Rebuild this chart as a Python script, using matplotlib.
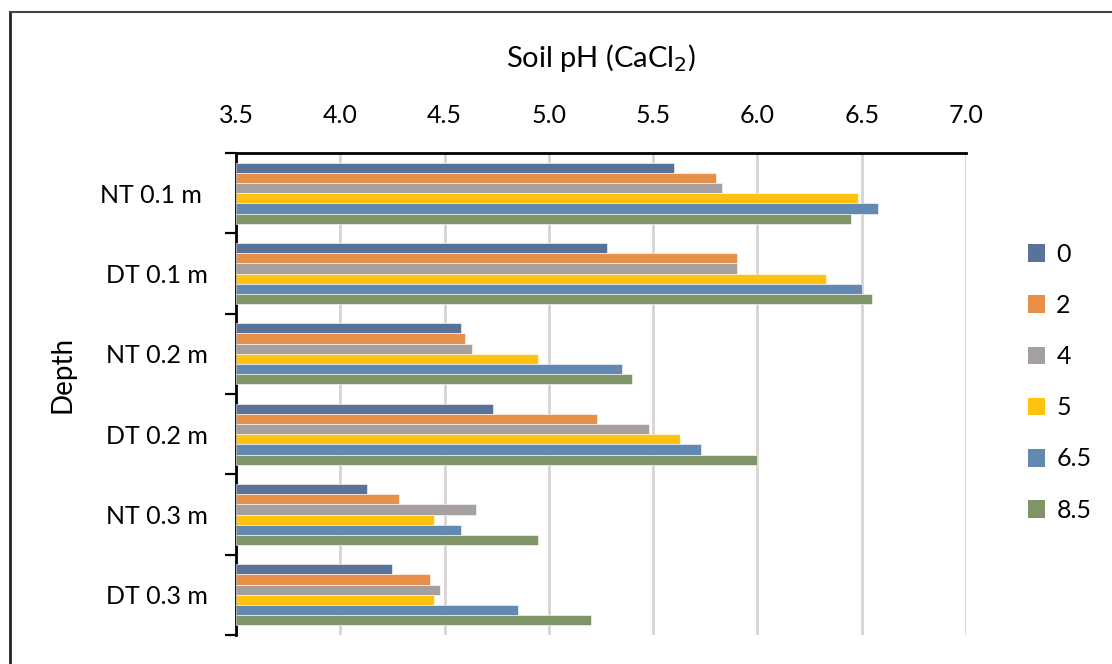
import matplotlib
matplotlib.use("Agg")
import matplotlib.pyplot as plt
from matplotlib.lines import Line2D
from matplotlib.patches import Patch
import numpy as np

plt.rcParams['font.family'] = ['Lato', 'DejaVu Sans']

categories = ["NT 0.1 m ", "DT 0.1 m", "NT 0.2 m", "DT 0.2 m", "NT 0.3 m", "DT 0.3 m"]
series_names = ["0", "2", "4", "5", "6.5", "8.5"]
values = {
    "0":   [5.60, 5.28, 4.58, 4.73, 4.13, 4.25],
    "2":   [5.80, 5.90, 4.60, 5.23, 4.28, 4.43],
    "4":   [5.83, 5.90, 4.63, 5.48, 4.65, 4.48],
    "5":   [6.48, 6.33, 4.95, 5.63, 4.45, 4.45],
    "6.5": [6.58, 6.50, 5.35, 5.73, 4.58, 4.85],
    "8.5": [6.45, 6.55, 5.40, 6.00, 4.95, 5.20],
}
colors = ["#58729A", "#E8904A", "#A5A09F", "#FFC20E", "#6189B2", "#7F9467"]
xticks = [3.5, 4.0, 4.5, 5.0, 5.5, 6.0, 6.5, 7.0]

fig = plt.figure(figsize=(11.12, 6.64), dpi=100)
ax = fig.add_axes([236/1112, 1-635/664, (966-236)/1112, (635-153)/664])

n = len(series_names)
bh = 0.76 / n
y = np.arange(len(categories))
for i, s in enumerate(series_names):
    off = -0.38 + bh * (i + 0.5)
    ax.barh(y + off, [v - 3.5 for v in values[s]], left=3.5, height=bh,
            color=colors[i], edgecolor="white", linewidth=0.4, zorder=3)

ax.set_xlim(3.5, 7.0)
ax.set_ylim(len(categories) - 0.5, -0.5)
ax.xaxis.tick_top()
ax.set_xticks(xticks)
ax.set_xticklabels([f"{t:.1f}" for t in xticks], fontsize=18)
ax.tick_params(axis='x', length=0, pad=19)
ax.grid(axis='x', color="#D9D4D4", linewidth=2, zorder=0)

ax.set_yticks(y)
ax.set_yticklabels(categories, fontsize=18)
ax.tick_params(axis='y', which='major', length=0, pad=20)
ax.set_yticks(np.arange(-0.5, len(categories)), minor=True)
ax.tick_params(axis='y', which='minor', length=8, width=1.6, color='black', direction='out')

for sp in ['right', 'bottom']:
    ax.spines[sp].set_visible(False)
ax.spines['top'].set_linewidth(2)
ax.spines['left'].set_linewidth(2)

ax.set_xlabel("Soil pH (CaCl$_2$)", fontsize=21, labelpad=26)
ax.xaxis.set_label_position('top')
fig.text(62/1112, 1-374/664, "Depth", rotation=90, fontsize=20, ha='center', va='center')

handles = [Patch(facecolor=c, edgecolor='none') for c in colors]
leg = fig.legend(handles, series_names, loc='upper left', bbox_to_anchor=(1005/1112, 1-220/664),
                 frameon=False, fontsize=18, handlelength=0.7, handleheight=0.7,
                 labelspacing=1.13, handletextpad=0.45)

# frame border
fig.add_artist(Line2D([10/1112, 10/1112], [0, 1-12/664], color='#222222', lw=2, transform=fig.transFigure))
fig.add_artist(Line2D([10/1112, 1], [1-12/664, 1-12/664], color='#444444', lw=1.5, transform=fig.transFigure))

fig.savefig("out.png", dpi=100)
